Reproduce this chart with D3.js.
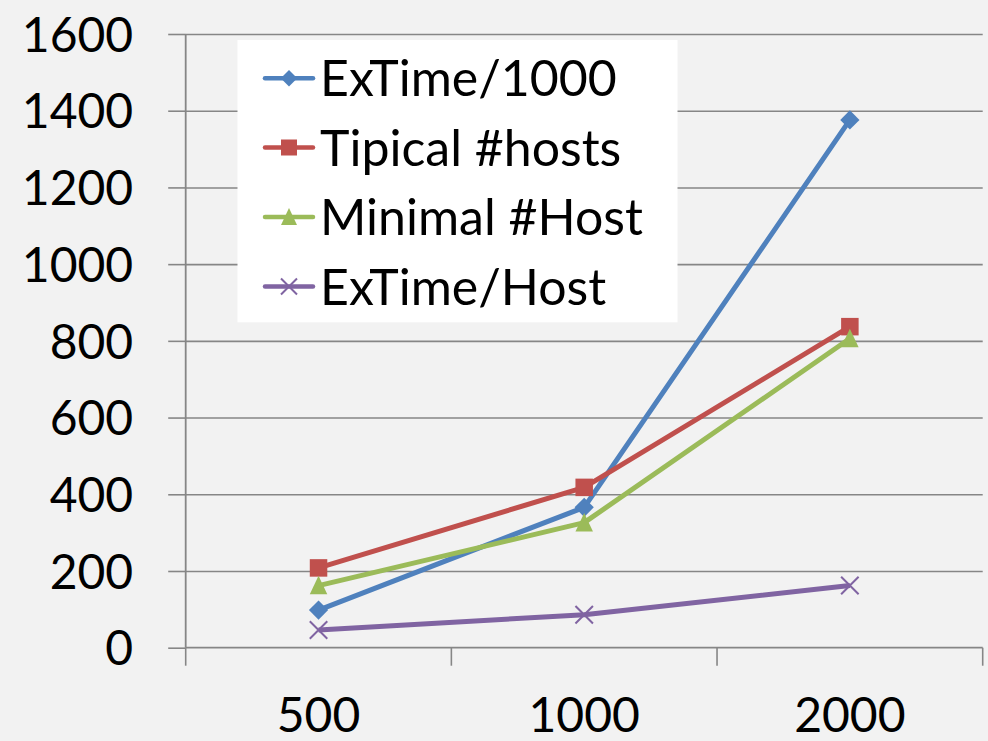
<!DOCTYPE html>
<html><head><meta charset="utf-8">
<script src="https://cdn.jsdelivr.net/npm/d3@7"></script>
<style>html,body{margin:0;padding:0;background:#f2f2f2;}svg{display:block;}</style>
</head><body>
<svg id="chart" width="988" height="741"></svg>
<script>
const categories = ["500", "1000", "2000"];
const seriesNames = ["ExTime/1000", "Tipical #hosts", "Minimal #Host", "ExTime/Host"];
const exTime1000 = [98, 366, 1376];
const tipicalHosts = [208, 418, 837];
const minimalHost = [162, 326, 806];
const exTimeHost = [46, 86, 162];
const yTicks = [0, 200, 400, 600, 800, 1000, 1200, 1400, 1600];

const colors = ["#4f81bd", "#c0504d", "#9bbb59", "#8064a2"];
const shapes = ["diamond", "square", "triangle", "x"];
const seriesValues = [exTime1000, tipicalHosts, minimalHost, exTimeHost];

const svg = d3.select("#chart");
const FONT = "Lato, 'Open Sans', sans-serif";
const pLeft = 185.7, pRight = 982.7, pTop = 34, pBottom = 647.7;

const x = d3.scaleBand().domain(categories).range([pLeft, pRight]);
const y = d3.scaleLinear().domain([0, 1600]).range([pBottom, pTop]);

svg.append("rect").attr("width", 988).attr("height", 741).attr("fill", "#f2f2f2");

// y ticks (left) with labels
const yAxis = svg.append("g").attr("transform", `translate(${pLeft},0)`)
  .call(d3.axisLeft(y).tickValues(yTicks).tickSize(17.5).tickPadding(35).tickFormat(d3.format("d")));
yAxis.select(".domain").remove();
yAxis.selectAll(".tick line").attr("stroke", "#868686").attr("stroke-width", 1.6);
yAxis.selectAll(".tick text").attr("font-family", FONT).attr("font-size", 48).attr("fill", "#000").attr("dy", "0.36em");

// gridlines
const grid = svg.append("g").attr("transform", `translate(${pLeft},0)`)
  .call(d3.axisRight(y).tickValues(yTicks.filter(d => d > 0)).tickSize(pRight - pLeft).tickFormat(""));
grid.select(".domain").remove();
grid.selectAll(".tick line").attr("stroke", "#868686").attr("stroke-width", 1.6);

// x axis labels
const xAxis = svg.append("g").attr("transform", `translate(0,${pBottom})`)
  .call(d3.axisBottom(x).tickSize(0).tickPadding(0));
xAxis.select(".domain").remove();
xAxis.selectAll(".tick text").attr("font-family", FONT).attr("font-size", 48).attr("fill", "#000")
  .attr("dy", null).attr("y", 84);
// x tick marks at band edges
const edges = categories.map(c => x(c)).concat([x(categories[categories.length - 1]) + x.bandwidth()]);
svg.append("g").selectAll("line").data(edges).join("line")
  .attr("x1", d => d).attr("x2", d => d).attr("y1", pBottom).attr("y2", pBottom + 18)
  .attr("stroke", "#868686").attr("stroke-width", 1.6);
svg.append("line").attr("x1", pLeft).attr("x2", pRight).attr("y1", pBottom).attr("y2", pBottom)
  .attr("stroke", "#868686").attr("stroke-width", 1.8);
svg.append("line").attr("x1", pLeft).attr("x2", pLeft).attr("y1", pTop).attr("y2", pBottom)
  .attr("stroke", "#868686").attr("stroke-width", 1.8);

function drawMarker(g, shape, color, cx, cy, s) {
  const h = s / 2;
  if (shape === "diamond") {
    const d = h * 1.1;
    g.append("path").attr("d", `M${cx},${cy - d}L${cx + d},${cy}L${cx},${cy + d}L${cx - d},${cy}Z`).attr("fill", color);
  } else if (shape === "square") {
    g.append("rect").attr("x", cx - h).attr("y", cy - h).attr("width", s).attr("height", s).attr("fill", color);
  } else if (shape === "triangle") {
    g.append("path").attr("d", `M${cx},${cy - h - 1}L${cx + h},${cy + h}L${cx - h},${cy + h}Z`).attr("fill", color);
  } else {
    g.append("path").attr("d", `M${cx - h},${cy - h}L${cx + h},${cy + h}M${cx + h},${cy - h}L${cx - h},${cy + h}`)
      .attr("stroke", color).attr("stroke-width", 2).attr("fill", "none");
  }
}

const line = d3.line().x((d, i) => x(categories[i]) + x.bandwidth() / 2).y(d => y(d));
const plot = svg.append("g");
seriesValues.forEach((vals, si) => {
  plot.append("path").datum(vals).attr("d", line).attr("fill", "none")
    .attr("stroke", colors[si]).attr("stroke-width", 5).attr("stroke-linejoin", "round");
});
seriesValues.forEach((vals, si) => {
  vals.forEach((v, i) => {
    drawMarker(plot, shapes[si], colors[si], x(categories[i]) + x.bandwidth() / 2, y(v), 17.5);
  });
});

// legend
const lg = svg.append("g");
lg.append("rect").attr("x", 237.5).attr("y", 40).attr("width", 440).attr("height", 282.3).attr("fill", "#ffffff");
const rowY = [78.3, 147.5, 217, 286.5];
seriesNames.forEach((name, i) => {
  lg.append("line").attr("x1", 265).attr("x2", 313).attr("y1", rowY[i]).attr("y2", rowY[i])
    .attr("stroke", colors[i]).attr("stroke-width", 4.5).attr("stroke-linecap", "round");
  drawMarker(lg, shapes[i], colors[i], 289, rowY[i], shapes[i] === "diamond" ? 15 : 16);
  lg.append("text").attr("x", 320).attr("y", rowY[i]).attr("dy", "0.36em")
    .attr("font-family", FONT).attr("font-size", 50).attr("fill", "#000").text(name);
});
</script>
</body></html>
